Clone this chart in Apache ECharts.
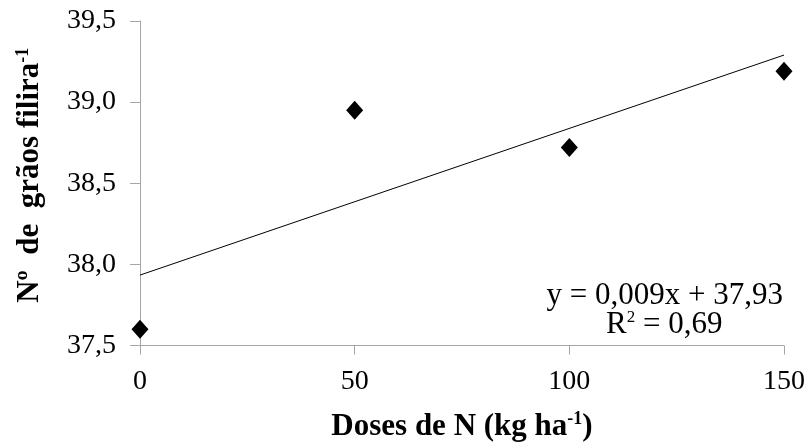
<!DOCTYPE html>
<html>
<head>
<meta charset="utf-8">
<script src="https://cdn.jsdelivr.net/npm/echarts@6/dist/echarts.min.js"></script>
<style>
  html, body { margin: 0; padding: 0; background: #fff; }
  #chart { width: 809px; height: 447px; }
</style>
</head>
<body>
<div id="chart"></div>
<script>
// doses de N e nº de grãos por fileira
var doses = [0, 50, 100, 150];
var graos = [37.60, 38.95, 38.72, 39.19];
// linha de tendência
var trendX = [0, 150];
var trendY = [37.934, 39.29];
var yTicks = [37.5, 38.0, 38.5, 39.0, 39.5];
var xTicks = [0, 50, 100, 150];

var serif = 'Liberation Serif';
var axisGray = '#a6a6a6';

var chart = echarts.init(document.getElementById('chart'));

var option = {
  animation: false,
  grid: { left: 140, right: 25, top: 21, bottom: 98 },
  xAxis: {
    type: 'value',
    min: xTicks[0],
    max: xTicks[xTicks.length - 1],
    interval: 50,
    splitLine: { show: false },
    axisLine: { lineStyle: { color: axisGray, width: 1 } },
    axisTick: { show: true, length: 9, inside: false, lineStyle: { color: axisGray } },
    axisLabel: {
      margin: 22,
      fontFamily: serif,
      fontSize: 28,
      color: '#000'
    },
    name: '{t|Doses de N (kg ha}{s|-1}{t|)}',
    nameLocation: 'middle',
    nameGap: 65,
    nameTextStyle: {
      rich: {
        t: { fontFamily: serif, fontSize: 31, fontWeight: 'bold', color: '#000' },
        s: { fontFamily: serif, fontSize: 18, fontWeight: 'bold', color: '#000', padding: [0, 0, 14, 0] }
      }
    }
  },
  yAxis: {
    type: 'value',
    min: yTicks[0],
    max: yTicks[yTicks.length - 1],
    interval: 0.5,
    splitLine: { show: false },
    axisLine: { show: true, lineStyle: { color: axisGray, width: 1 } },
    axisTick: { show: true, length: 10, inside: false, lineStyle: { color: axisGray } },
    axisLabel: {
      margin: 24,
      fontFamily: serif,
      fontSize: 28,
      color: '#000',
      formatter: function (v) { return v.toFixed(1).replace('.', ','); }
    },
    name: '{t|N\u00ba  de  grãos filira}{s|-1}',
    nameLocation: 'middle',
    nameRotate: 90,
    nameGap: 94,
    nameTextStyle: {
      padding: [0, 0, 0, 16],
      rich: {
        t: { fontFamily: serif, fontSize: 31, fontWeight: 'bold', color: '#000' },
        s: { fontFamily: serif, fontSize: 18, fontWeight: 'bold', color: '#000', padding: [0, 0, 14, 0] }
      }
    }
  },
  graphic: [
    {
      type: 'text',
      right: 26,
      top: 280,
      style: {
        text: 'y = 0,009x + 37,93',
        font: '31px ' + serif,
        fill: '#000'
      }
    },
    {
      type: 'text',
      left: 606,
      top: 309,
      style: {
        text: '{t|R}{s|2}{t| = 0,69}',
        rich: {
          t: { fontFamily: serif, fontSize: 31, color: '#000' },
          s: { fontFamily: serif, fontSize: 17, color: '#000', padding: [0, 0, 13, 0] }
        }
      }
    }
  ],
  series: [
    {
      type: 'line',
      data: trendX.map(function (x, i) { return [x, trendY[i]]; }),
      symbol: 'none',
      lineStyle: { color: '#000', width: 1 },
      z: 2
    },
    {
      type: 'scatter',
      data: doses.map(function (x, i) { return [x, graos[i]]; }),
      symbol: 'diamond',
      symbolSize: [17, 19],
      itemStyle: { color: '#000', opacity: 1 },
      z: 3
    }
  ]
};

chart.setOption(option);
</script>
</body>
</html>
